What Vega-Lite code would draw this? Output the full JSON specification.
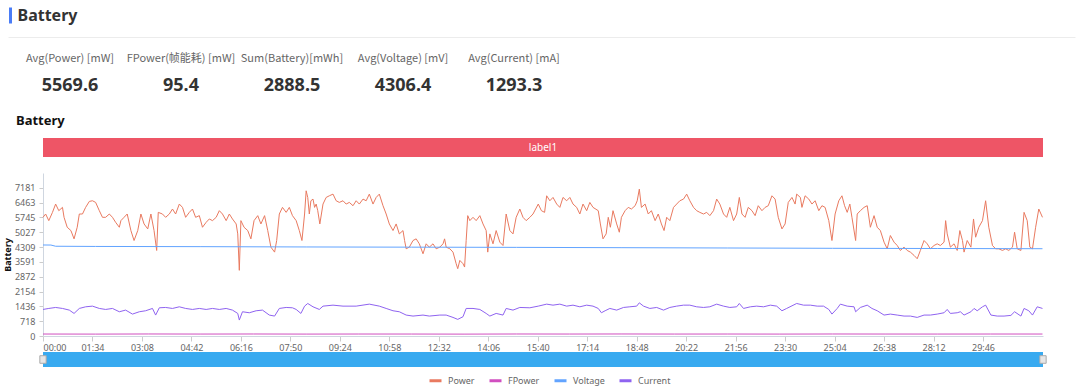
{
  "$schema": "https://vega.github.io/schema/vega-lite/v6.json",
  "background": "white",
  "padding": {"left": 3, "top": 7, "right": 0, "bottom": 0},
  "bounds": "flush",
  "spacing": 16,
  "config": {
    "view": {"stroke": null},
    "font": "Noto Sans",
    "axis": {"labelFont": "Noto Sans", "titleFont": "Noto Sans"}
  },
  "datasets": {
    "stats": [
      {"metric": "Avg(Power) [mW]", "kind": "label", "text": "Avg(Power) [mW]"},
      {"metric": "FPower(帧能耗) [mW]", "kind": "label", "text": "FPower(帧能耗) [mW]"},
      {"metric": "Sum(Battery)[mWh]", "kind": "label", "text": "Sum(Battery)[mWh]"},
      {"metric": "Avg(Voltage) [mV]", "kind": "label", "text": "Avg(Voltage) [mV]"},
      {"metric": "Avg(Current) [mA]", "kind": "label", "text": "Avg(Current) [mA]"},
      {"metric": "Avg(Power) [mW]", "kind": "value", "text": "5569.6"},
      {"metric": "FPower(帧能耗) [mW]", "kind": "value", "text": "95.4"},
      {"metric": "Sum(Battery)[mWh]", "kind": "value", "text": "2888.5"},
      {"metric": "Avg(Voltage) [mV]", "kind": "value", "text": "4306.4"},
      {"metric": "Avg(Current) [mA]", "kind": "value", "text": "1293.3"}
    ],
    "series": [
      {"series":"Power","t":0,"v":5751},{"series":"Power","t":5,"v":5912},{"series":"Power","t":11,"v":5591},{"series":"Power","t":18,"v":5992},{"series":"Power","t":24,"v":6394},{"series":"Power","t":30,"v":6073},{"series":"Power","t":37,"v":6233},{"series":"Power","t":40,"v":5751},{"series":"Power","t":46,"v":5270},{"series":"Power","t":53,"v":5109},{"series":"Power","t":59,"v":4708},{"series":"Power","t":65,"v":5270},{"series":"Power","t":69,"v":5912},{"series":"Power","t":75,"v":5912},{"series":"Power","t":81,"v":6233},{"series":"Power","t":88,"v":6522},{"series":"Power","t":94,"v":6554},{"series":"Power","t":100,"v":6474},{"series":"Power","t":107,"v":6073},{"series":"Power","t":113,"v":5751},{"series":"Power","t":119,"v":5751},{"series":"Power","t":126,"v":5912},{"series":"Power","t":132,"v":5751},{"series":"Power","t":138,"v":5510},{"series":"Power","t":145,"v":5270},{"series":"Power","t":148,"v":5591},{"series":"Power","t":154,"v":5751},{"series":"Power","t":160,"v":5912},{"series":"Power","t":167,"v":5109},{"series":"Power","t":173,"v":4627},{"series":"Power","t":180,"v":5109},{"series":"Power","t":186,"v":5912},{"series":"Power","t":192,"v":5430},{"series":"Power","t":199,"v":5189},{"series":"Power","t":205,"v":5912},{"series":"Power","t":211,"v":5109},{"series":"Power","t":216,"v":4145},{"series":"Power","t":219,"v":5992},{"series":"Power","t":227,"v":5912},{"series":"Power","t":233,"v":5751},{"series":"Power","t":240,"v":5912},{"series":"Power","t":246,"v":6153},{"series":"Power","t":252,"v":5912},{"series":"Power","t":259,"v":6394},{"series":"Power","t":265,"v":6233},{"series":"Power","t":271,"v":5751},{"series":"Power","t":278,"v":5992},{"series":"Power","t":284,"v":6153},{"series":"Power","t":290,"v":5751},{"series":"Power","t":297,"v":5832},{"series":"Power","t":303,"v":5270},{"series":"Power","t":310,"v":5510},{"series":"Power","t":316,"v":5671},{"series":"Power","t":322,"v":5591},{"series":"Power","t":329,"v":5751},{"series":"Power","t":335,"v":6073},{"series":"Power","t":341,"v":5912},{"series":"Power","t":348,"v":5591},{"series":"Power","t":354,"v":5912},{"series":"Power","t":360,"v":5671},{"series":"Power","t":367,"v":5430},{"series":"Power","t":370,"v":4948},{"series":"Power","t":373,"v":3182},{"series":"Power","t":376,"v":5591},{"series":"Power","t":382,"v":5270},{"series":"Power","t":389,"v":5109},{"series":"Power","t":395,"v":4708},{"series":"Power","t":401,"v":5591},{"series":"Power","t":408,"v":5832},{"series":"Power","t":414,"v":5430},{"series":"Power","t":421,"v":5832},{"series":"Power","t":427,"v":5109},{"series":"Power","t":433,"v":4306},{"series":"Power","t":440,"v":4065},{"series":"Power","t":444,"v":4627},{"series":"Power","t":449,"v":5912},{"series":"Power","t":455,"v":6233},{"series":"Power","t":462,"v":5992},{"series":"Power","t":468,"v":6233},{"series":"Power","t":474,"v":5832},
      {"series":"Power","t":481,"v":5591},{"series":"Power","t":487,"v":5109},{"series":"Power","t":492,"v":4627},{"series":"Power","t":497,"v":5912},{"series":"Power","t":500,"v":7036},{"series":"Power","t":503,"v":6715},{"series":"Power","t":506,"v":5912},{"series":"Power","t":509,"v":6554},{"series":"Power","t":513,"v":6635},{"series":"Power","t":516,"v":6233},{"series":"Power","t":519,"v":6394},{"series":"Power","t":522,"v":6073},{"series":"Power","t":526,"v":5430},{"series":"Power","t":532,"v":6394},{"series":"Power","t":538,"v":6715},{"series":"Power","t":544,"v":6795},{"series":"Power","t":551,"v":6876},{"series":"Power","t":557,"v":6554},{"series":"Power","t":563,"v":6474},{"series":"Power","t":570,"v":6554},{"series":"Power","t":576,"v":6394},{"series":"Power","t":582,"v":6474},{"series":"Power","t":589,"v":6314},{"series":"Power","t":595,"v":6554},{"series":"Power","t":601,"v":6394},{"series":"Power","t":608,"v":6635},{"series":"Power","t":614,"v":6554},{"series":"Power","t":620,"v":6876},{"series":"Power","t":627,"v":6394},{"series":"Power","t":633,"v":6715},{"series":"Power","t":639,"v":6876},{"series":"Power","t":646,"v":6314},{"series":"Power","t":652,"v":5912},{"series":"Power","t":658,"v":5430},{"series":"Power","t":665,"v":5109},{"series":"Power","t":671,"v":5430},{"series":"Power","t":677,"v":4948},{"series":"Power","t":684,"v":5109},{"series":"Power","t":687,"v":4627},{"series":"Power","t":690,"v":4226},{"series":"Power","t":696,"v":4306},{"series":"Power","t":703,"v":4627},{"series":"Power","t":709,"v":4708},{"series":"Power","t":715,"v":4467},{"series":"Power","t":722,"v":3985},{"series":"Power","t":728,"v":4467},{"series":"Power","t":734,"v":4306},{"series":"Power","t":741,"v":4467},{"series":"Power","t":747,"v":4226},{"series":"Power","t":754,"v":4306},{"series":"Power","t":760,"v":4467},{"series":"Power","t":763,"v":4708},{"series":"Power","t":766,"v":4306},{"series":"Power","t":773,"v":4226},{"series":"Power","t":779,"v":4065},{"series":"Power","t":785,"v":3503},{"series":"Power","t":788,"v":3262},{"series":"Power","t":792,"v":3664},{"series":"Power","t":798,"v":3503},{"series":"Power","t":801,"v":3342},{"series":"Power","t":804,"v":4627},{"series":"Power","t":807,"v":5832},{"series":"Power","t":811,"v":5591},{"series":"Power","t":817,"v":5751},{"series":"Power","t":823,"v":5591},{"series":"Power","t":830,"v":5832},{"series":"Power","t":836,"v":5430},{"series":"Power","t":842,"v":5109},{"series":"Power","t":845,"v":4065},{"series":"Power","t":849,"v":4948},{"series":"Power","t":855,"v":4467},{"series":"Power","t":861,"v":5109},{"series":"Power","t":868,"v":4547},{"series":"Power","t":874,"v":4386},{"series":"Power","t":880,"v":5912},{"series":"Power","t":887,"v":5109},{"series":"Power","t":893,"v":4948},{"series":"Power","t":899,"v":5751},{"series":"Power","t":906,"v":6153},{"series":"Power","t":912,"v":5751},{"series":"Power","t":918,"v":5591},{"series":"Power","t":925,"v":5751},{"series":"Power","t":931,"v":5912},{"series":"Power","t":941,"v":6394},{"series":"Power","t":947,"v":6073},{"series":"Power","t":953,"v":5992},
      {"series":"Power","t":957,"v":6795},{"series":"Power","t":963,"v":6554},{"series":"Power","t":969,"v":6715},{"series":"Power","t":976,"v":6394},{"series":"Power","t":982,"v":6233},{"series":"Power","t":988,"v":6715},{"series":"Power","t":995,"v":6554},{"series":"Power","t":1001,"v":6715},{"series":"Power","t":1007,"v":6394},{"series":"Power","t":1014,"v":6233},{"series":"Power","t":1020,"v":5912},{"series":"Power","t":1026,"v":6394},{"series":"Power","t":1033,"v":6073},{"series":"Power","t":1039,"v":6474},{"series":"Power","t":1045,"v":6233},{"series":"Power","t":1055,"v":6073},{"series":"Power","t":1059,"v":5430},{"series":"Power","t":1064,"v":4708},{"series":"Power","t":1070,"v":4948},{"series":"Power","t":1074,"v":5751},{"series":"Power","t":1078,"v":5270},{"series":"Power","t":1083,"v":6073},{"series":"Power","t":1090,"v":5430},{"series":"Power","t":1095,"v":5029},{"series":"Power","t":1099,"v":5751},{"series":"Power","t":1106,"v":6073},{"series":"Power","t":1112,"v":6233},{"series":"Power","t":1118,"v":6153},{"series":"Power","t":1125,"v":6314},{"series":"Power","t":1129,"v":6554},{"series":"Power","t":1133,"v":7117},{"series":"Power","t":1137,"v":6233},{"series":"Power","t":1144,"v":6394},{"series":"Power","t":1150,"v":5912},{"series":"Power","t":1156,"v":6073},{"series":"Power","t":1163,"v":5591},{"series":"Power","t":1169,"v":5912},{"series":"Power","t":1175,"v":5430},{"series":"Power","t":1180,"v":5109},{"series":"Power","t":1185,"v":5751},{"series":"Power","t":1191,"v":5591},{"series":"Power","t":1198,"v":6233},{"series":"Power","t":1204,"v":6394},{"series":"Power","t":1210,"v":6554},{"series":"Power","t":1217,"v":6635},{"series":"Power","t":1223,"v":6876},{"series":"Power","t":1229,"v":6554},{"series":"Power","t":1236,"v":6233},{"series":"Power","t":1242,"v":6073},{"series":"Power","t":1248,"v":5992},{"series":"Power","t":1255,"v":5912},{"series":"Power","t":1261,"v":5992},{"series":"Power","t":1267,"v":5832},{"series":"Power","t":1274,"v":6073},{"series":"Power","t":1280,"v":6635},{"series":"Power","t":1286,"v":6394},{"series":"Power","t":1293,"v":5912},{"series":"Power","t":1299,"v":5751},{"series":"Power","t":1305,"v":6233},{"series":"Power","t":1312,"v":5591},{"series":"Power","t":1318,"v":5912},{"series":"Power","t":1323,"v":6715},{"series":"Power","t":1328,"v":5912},{"series":"Power","t":1334,"v":5751},{"series":"Power","t":1340,"v":6233},{"series":"Power","t":1347,"v":6073},{"series":"Power","t":1353,"v":5832},{"series":"Power","t":1359,"v":6314},{"series":"Power","t":1366,"v":6073},{"series":"Power","t":1372,"v":6233},{"series":"Power","t":1378,"v":6314},{"series":"Power","t":1385,"v":6795},{"series":"Power","t":1391,"v":6635},{"series":"Power","t":1397,"v":5751},{"series":"Power","t":1404,"v":5189},{"series":"Power","t":1410,"v":5430},{"series":"Power","t":1416,"v":6474},{"series":"Power","t":1423,"v":6715},{"series":"Power","t":1429,"v":6394},
      {"series":"Power","t":1432,"v":6876},{"series":"Power","t":1439,"v":6715},{"series":"Power","t":1442,"v":6233},{"series":"Power","t":1448,"v":6795},{"series":"Power","t":1455,"v":6635},{"series":"Power","t":1461,"v":6394},{"series":"Power","t":1467,"v":6554},{"series":"Power","t":1474,"v":6073},{"series":"Power","t":1480,"v":6314},{"series":"Power","t":1486,"v":6233},{"series":"Power","t":1493,"v":5591},{"series":"Power","t":1499,"v":4627},{"series":"Power","t":1505,"v":5912},{"series":"Power","t":1512,"v":6554},{"series":"Power","t":1518,"v":6795},{"series":"Power","t":1523,"v":6314},{"series":"Power","t":1528,"v":5992},{"series":"Power","t":1533,"v":6394},{"series":"Power","t":1537,"v":5751},{"series":"Power","t":1544,"v":4627},{"series":"Power","t":1547,"v":5912},{"series":"Power","t":1553,"v":6073},{"series":"Power","t":1560,"v":6233},{"series":"Power","t":1566,"v":6314},{"series":"Power","t":1572,"v":5270},{"series":"Power","t":1579,"v":5832},{"series":"Power","t":1585,"v":5270},{"series":"Power","t":1591,"v":5109},{"series":"Power","t":1598,"v":4547},{"series":"Power","t":1604,"v":4226},{"series":"Power","t":1610,"v":4868},{"series":"Power","t":1617,"v":4547},{"series":"Power","t":1623,"v":4386},{"series":"Power","t":1629,"v":4145},{"series":"Power","t":1636,"v":4306},{"series":"Power","t":1642,"v":4145},{"series":"Power","t":1648,"v":4065},{"series":"Power","t":1655,"v":3905},{"series":"Power","t":1661,"v":3744},{"series":"Power","t":1667,"v":4145},{"series":"Power","t":1674,"v":4627},{"series":"Power","t":1680,"v":4467},{"series":"Power","t":1686,"v":4226},{"series":"Power","t":1693,"v":4386},{"series":"Power","t":1699,"v":4467},{"series":"Power","t":1705,"v":4386},{"series":"Power","t":1712,"v":4547},{"series":"Power","t":1715,"v":5591},{"series":"Power","t":1718,"v":4948},{"series":"Power","t":1724,"v":4306},{"series":"Power","t":1731,"v":4467},{"series":"Power","t":1737,"v":4145},{"series":"Power","t":1742,"v":5109},{"series":"Power","t":1747,"v":4627},{"series":"Power","t":1750,"v":4065},{"series":"Power","t":1756,"v":4627},{"series":"Power","t":1763,"v":4306},{"series":"Power","t":1768,"v":5671},{"series":"Power","t":1772,"v":4788},{"series":"Power","t":1778,"v":5270},{"series":"Power","t":1785,"v":5591},{"series":"Power","t":1791,"v":6554},{"series":"Power","t":1797,"v":5270},{"series":"Power","t":1804,"v":4386},{"series":"Power","t":1810,"v":4226},{"series":"Power","t":1816,"v":4226},{"series":"Power","t":1823,"v":4145},{"series":"Power","t":1829,"v":4226},{"series":"Power","t":1835,"v":4145},{"series":"Power","t":1842,"v":4306},{"series":"Power","t":1846,"v":5029},{"series":"Power","t":1851,"v":4226},{"series":"Power","t":1858,"v":4145},{"series":"Power","t":1864,"v":5992},{"series":"Power","t":1870,"v":5591},{"series":"Power","t":1875,"v":4306},{"series":"Power","t":1880,"v":4226},{"series":"Power","t":1886,"v":5270},{"series":"Power","t":1892,"v":6153},{"series":"Power","t":1899,"v":5751},
      {"series":"FPower","t":0,"v":96},{"series":"FPower","t":100,"v":92},{"series":"FPower","t":200,"v":98},{"series":"FPower","t":300,"v":94},{"series":"FPower","t":400,"v":97},{"series":"FPower","t":500,"v":93},{"series":"FPower","t":600,"v":96},{"series":"FPower","t":700,"v":95},{"series":"FPower","t":800,"v":91},{"series":"FPower","t":900,"v":97},{"series":"FPower","t":1000,"v":95},{"series":"FPower","t":1100,"v":98},{"series":"FPower","t":1200,"v":94},{"series":"FPower","t":1300,"v":96},{"series":"FPower","t":1400,"v":93},{"series":"FPower","t":1500,"v":97},{"series":"FPower","t":1600,"v":95},{"series":"FPower","t":1700,"v":94},{"series":"FPower","t":1800,"v":96},{"series":"FPower","t":1899,"v":95},
      {"series":"Voltage","t":0,"v":4410},{"series":"Voltage","t":15,"v":4408},{"series":"Voltage","t":24,"v":4350},{"series":"Voltage","t":100,"v":4340},{"series":"Voltage","t":300,"v":4330},{"series":"Voltage","t":500,"v":4315},{"series":"Voltage","t":700,"v":4305},{"series":"Voltage","t":900,"v":4295},{"series":"Voltage","t":1100,"v":4280},{"series":"Voltage","t":1300,"v":4265},{"series":"Voltage","t":1500,"v":4250},{"series":"Voltage","t":1700,"v":4240},{"series":"Voltage","t":1899,"v":4230},
      {"series":"Current","t":0,"v":1287},{"series":"Current","t":11,"v":1335},{"series":"Current","t":24,"v":1383},{"series":"Current","t":37,"v":1335},{"series":"Current","t":50,"v":1255},{"series":"Current","t":59,"v":1094},{"series":"Current","t":69,"v":1335},{"series":"Current","t":81,"v":1415},{"series":"Current","t":94,"v":1447},{"series":"Current","t":107,"v":1335},{"series":"Current","t":119,"v":1287},{"series":"Current","t":132,"v":1335},{"series":"Current","t":145,"v":1175},{"series":"Current","t":157,"v":1255},{"series":"Current","t":170,"v":1062},{"series":"Current","t":183,"v":1175},{"series":"Current","t":195,"v":1223},{"series":"Current","t":208,"v":1335},{"series":"Current","t":214,"v":1014},{"series":"Current","t":221,"v":1367},{"series":"Current","t":233,"v":1383},{"series":"Current","t":246,"v":1335},{"series":"Current","t":259,"v":1415},{"series":"Current","t":271,"v":1335},{"series":"Current","t":284,"v":1287},{"series":"Current","t":297,"v":1335},{"series":"Current","t":310,"v":1287},{"series":"Current","t":322,"v":1335},{"series":"Current","t":335,"v":1287},{"series":"Current","t":348,"v":1335},{"series":"Current","t":360,"v":1255},{"series":"Current","t":370,"v":1094},{"series":"Current","t":373,"v":773},{"series":"Current","t":379,"v":1175},{"series":"Current","t":392,"v":1126},{"series":"Current","t":405,"v":1223},{"series":"Current","t":417,"v":1255},{"series":"Current","t":430,"v":1014},{"series":"Current","t":440,"v":966},{"series":"Current","t":449,"v":1335},{"series":"Current","t":462,"v":1383},{"series":"Current","t":474,"v":1367},
      {"series":"Current","t":481,"v":1287},{"series":"Current","t":490,"v":1094},{"series":"Current","t":497,"v":1447},{"series":"Current","t":503,"v":1576},{"series":"Current","t":513,"v":1415},{"series":"Current","t":525,"v":1287},{"series":"Current","t":532,"v":1447},{"series":"Current","t":551,"v":1495},{"series":"Current","t":570,"v":1447},{"series":"Current","t":595,"v":1447},{"series":"Current","t":620,"v":1544},{"series":"Current","t":639,"v":1447},{"series":"Current","t":652,"v":1335},{"series":"Current","t":665,"v":1223},{"series":"Current","t":677,"v":1175},{"series":"Current","t":690,"v":1014},{"series":"Current","t":703,"v":966},{"series":"Current","t":722,"v":1014},{"series":"Current","t":734,"v":966},{"series":"Current","t":754,"v":1014},{"series":"Current","t":766,"v":1014},{"series":"Current","t":779,"v":901},{"series":"Current","t":788,"v":805},{"series":"Current","t":798,"v":934},{"series":"Current","t":804,"v":1335},{"series":"Current","t":817,"v":1335},{"series":"Current","t":830,"v":1287},{"series":"Current","t":842,"v":1094},{"series":"Current","t":849,"v":966},{"series":"Current","t":861,"v":1094},{"series":"Current","t":874,"v":1014},{"series":"Current","t":880,"v":1335},{"series":"Current","t":893,"v":1255},{"series":"Current","t":906,"v":1383},{"series":"Current","t":925,"v":1367},{"series":"Current","t":941,"v":1447},
      {"series":"Current","t":957,"v":1544},{"series":"Current","t":969,"v":1495},{"series":"Current","t":982,"v":1544},{"series":"Current","t":995,"v":1447},{"series":"Current","t":1007,"v":1495},{"series":"Current","t":1020,"v":1415},{"series":"Current","t":1033,"v":1495},{"series":"Current","t":1045,"v":1447},{"series":"Current","t":1055,"v":1335},{"series":"Current","t":1061,"v":1126},{"series":"Current","t":1068,"v":1223},{"series":"Current","t":1077,"v":1335},{"series":"Current","t":1090,"v":1255},{"series":"Current","t":1103,"v":1383},{"series":"Current","t":1115,"v":1415},{"series":"Current","t":1128,"v":1447},{"series":"Current","t":1133,"v":1608},{"series":"Current","t":1141,"v":1447},{"series":"Current","t":1153,"v":1335},{"series":"Current","t":1166,"v":1383},{"series":"Current","t":1179,"v":1255},{"series":"Current","t":1191,"v":1383},{"series":"Current","t":1204,"v":1447},{"series":"Current","t":1217,"v":1495},{"series":"Current","t":1229,"v":1495},{"series":"Current","t":1242,"v":1415},{"series":"Current","t":1255,"v":1383},{"series":"Current","t":1267,"v":1415},{"series":"Current","t":1280,"v":1544},{"series":"Current","t":1293,"v":1447},{"series":"Current","t":1305,"v":1383},{"series":"Current","t":1318,"v":1415},{"series":"Current","t":1323,"v":1576},{"series":"Current","t":1331,"v":1335},{"series":"Current","t":1344,"v":1415},{"series":"Current","t":1356,"v":1447},{"series":"Current","t":1369,"v":1415},{"series":"Current","t":1382,"v":1495},{"series":"Current","t":1394,"v":1447},{"series":"Current","t":1404,"v":1223},{"series":"Current","t":1413,"v":1335},
      {"series":"Current","t":1432,"v":1576},{"series":"Current","t":1445,"v":1495},{"series":"Current","t":1458,"v":1495},{"series":"Current","t":1471,"v":1447},{"series":"Current","t":1483,"v":1447},{"series":"Current","t":1493,"v":1287},{"series":"Current","t":1499,"v":1062},{"series":"Current","t":1509,"v":1335},{"series":"Current","t":1515,"v":1544},{"series":"Current","t":1528,"v":1447},{"series":"Current","t":1541,"v":1415},{"series":"Current","t":1544,"v":1175},{"series":"Current","t":1553,"v":1383},{"series":"Current","t":1566,"v":1495},{"series":"Current","t":1575,"v":1335},{"series":"Current","t":1585,"v":1223},{"series":"Current","t":1598,"v":1014},{"series":"Current","t":1610,"v":1062},{"series":"Current","t":1623,"v":1014},{"series":"Current","t":1636,"v":966},{"series":"Current","t":1648,"v":966},{"series":"Current","t":1661,"v":901},{"series":"Current","t":1674,"v":1014},{"series":"Current","t":1686,"v":1014},{"series":"Current","t":1699,"v":1062},{"series":"Current","t":1712,"v":1126},{"series":"Current","t":1718,"v":1287},{"series":"Current","t":1724,"v":1094},{"series":"Current","t":1737,"v":1126},{"series":"Current","t":1743,"v":1175},{"series":"Current","t":1750,"v":1014},{"series":"Current","t":1763,"v":1175},{"series":"Current","t":1769,"v":1335},{"series":"Current","t":1775,"v":1223},{"series":"Current","t":1785,"v":1415},{"series":"Current","t":1791,"v":1495},{"series":"Current","t":1801,"v":1014},{"series":"Current","t":1813,"v":966},{"series":"Current","t":1826,"v":966},{"series":"Current","t":1839,"v":998},{"series":"Current","t":1846,"v":1175},{"series":"Current","t":1858,"v":966},{"series":"Current","t":1864,"v":1335},{"series":"Current","t":1873,"v":1223},{"series":"Current","t":1880,"v":1014},{"series":"Current","t":1889,"v":1415},{"series":"Current","t":1899,"v":1335}
    ]
  },
  "vconcat": [
    {
      "width": 1032,
      "height": 16,
      "data": {"values": []},
      "mark": {"type": "point", "opacity": 0},
      "encoding": {
        "x": {"field": "a", "type": "quantitative", "scale": {"domain": [0, 1], "range": [-35, 1032]},
          "axis": {"orient": "bottom", "offset": 14, "domainColor": "#ececec", "domainWidth": 1, "ticks": false, "labels": false, "grid": false, "title": null}},
        "y": {"field": "b", "type": "quantitative", "scale": {"domain": [0, 1]},
          "axis": {"offset": 33, "domainColor": "#4a7cf6", "domainWidth": 3, "ticks": false, "labels": false, "grid": false,
            "title": "Battery", "titleAngle": 0, "titleAlign": "left", "titleBaseline": "middle", "titleX": 7, "titleY": 8,
            "titleFontSize": 16, "titleFontWeight": "bold", "titleColor": "#333333"}}
      }
    },
    {
      "width": 1000,
      "height": 83,
      "data": {"name": "stats"},
      "encoding": {
        "x": {"field": "metric", "type": "nominal", "sort": null,
          "scale": {"type": "point", "padding": 0, "domain": ["Avg(Power) [mW]", "FPower(帧能耗) [mW]", "Sum(Battery)[mWh]", "Avg(Voltage) [mV]", "Avg(Current) [mA]"], "range": [27, 471]},
          "axis": null},
        "y": {"field": "kind", "type": "nominal", "scale": {"type": "point", "padding": 0, "domain": ["label", "value"], "range": [20, 47]}, "axis": null},
        "text": {"field": "text"}
      },
      "layer": [
        {"transform": [{"filter": "datum.kind === 'label'"}],
         "mark": {"type": "text", "fontSize": 11, "color": "#666666", "font": "Noto Sans CJK SC"}},
        {"transform": [{"filter": "datum.kind === 'value'"}],
         "mark": {"type": "text", "fontSize": 18, "fontWeight": "bold", "color": "#333333"}}
      ]
    },
    {
      "width": 1000,
      "height": 19,
      "title": {"text": "Battery", "anchor": "start", "dx": -27, "fontSize": 13, "fontWeight": "bold", "color": "#111111", "offset": 10},
      "data": {"values": [{"label": "label1", "start": 0, "end": 1900}]},
      "layer": [
        {"mark": {"type": "rect", "color": "#ee5566"},
         "encoding": {"x": {"field": "start", "type": "quantitative", "scale": {"domain": [0, 1900], "nice": false}, "axis": null}, "x2": {"field": "end"}}},
        {"mark": {"type": "text", "color": "white", "fontSize": 10},
         "encoding": {"text": {"field": "label"}}}
      ]
    },
    {
      "width": 1000,
      "height": 163,
      "data": {"name": "series"},
      "mark": {"type": "line", "strokeWidth": 1},
      "encoding": {
        "x": {"field": "t", "type": "quantitative", "scale": {"domain": [0, 1900], "nice": false},
          "axis": {"values": [0, 94, 188, 282, 376, 470, 564, 658, 752, 846, 940, 1034, 1128, 1222, 1316, 1410, 1504, 1598, 1692, 1786],
            "labelExpr": "utcFormat(datum.value * 1000, '%M:%S')", "labelFlush": true, "labelFontSize": 9, "labelColor": "#666666",
            "tickColor": "#cccccc", "tickSize": 5, "domainColor": "#cfd6e0", "grid": false, "title": null, "labelPadding": 2}},
        "y": {"field": "v", "type": "quantitative", "scale": {"domain": [0, 7899], "nice": false},
          "axis": {"values": [0, 718, 1436, 2154, 2872, 3591, 4309, 5027, 5745, 6463, 7181], "format": "d",
            "labelFontSize": 9, "labelColor": "#666666", "tickColor": "#cccccc", "tickSize": 4, "labelPadding": 4, "domainColor": "#cfd6e0", "grid": false,
            "title": "Battery", "titleFontSize": 9, "titleFontWeight": "bold", "titleColor": "#111111", "titlePadding": 2}},
        "color": {"field": "series", "type": "nominal",
          "scale": {"domain": ["Power", "FPower", "Voltage", "Current"], "range": ["#e97a60", "#d14fc0", "#62a4ff", "#8f63f0"]},
          "legend": {"orient": "none", "legendX": 385, "legendY": 366, "direction": "horizontal", "title": null,
            "symbolType": "stroke", "symbolStrokeWidth": 3, "symbolSize": 144, "labelFontSize": 9, "labelColor": "#666666",
            "columnPadding": 8, "labelOffset": 5}}
      }
    },
    {
      "width": 1000,
      "height": 15,
      "data": {"values": [{"start": 0, "end": 1900}]},
      "layer": [
        {"mark": {"type": "rect", "color": "#38aaf0"},
         "encoding": {"x": {"field": "start", "type": "quantitative", "scale": {"domain": [0, 1900], "nice": false}, "axis": null}, "x2": {"field": "end"}}},
        {"transform": [{"fold": ["start", "end"], "as": ["handle", "pos"]}],
         "mark": {"type": "point", "shape": "M-0.5,-0.6L0.5,-0.6L0.5,0.6L-0.5,0.6Z", "size": 160, "filled": true, "fill": "#e6e6e6", "stroke": "#aaaaaa", "strokeWidth": 1, "opacity": 1},
         "encoding": {"x": {"field": "pos", "type": "quantitative"}}}
      ]
    }
  ]
}
